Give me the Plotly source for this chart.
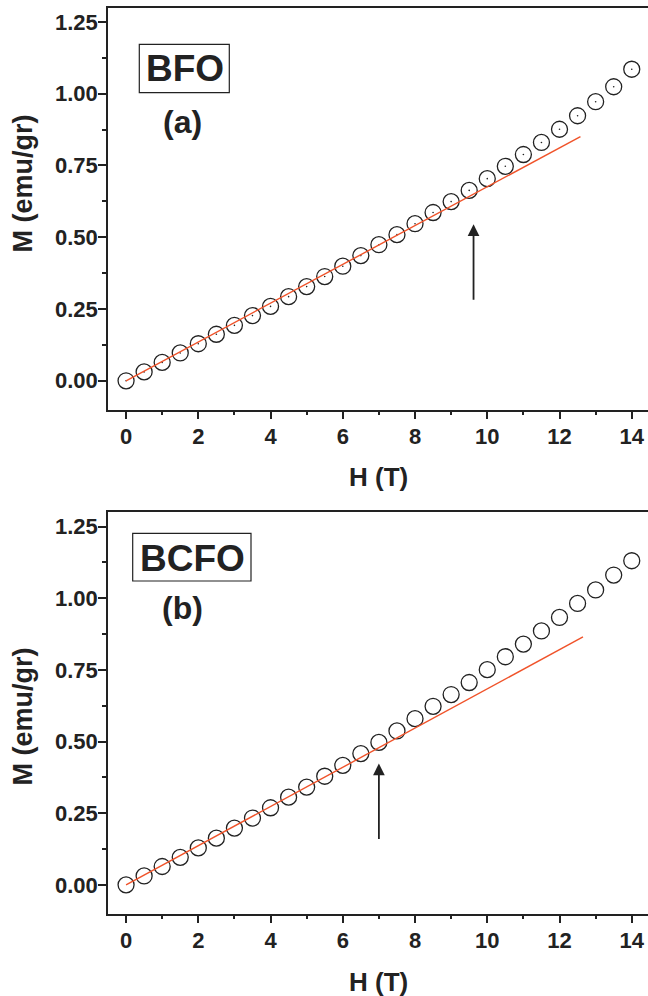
import plotly.graph_objects as go

# ---------------- data ----------------
H = [0, 0.5, 1, 1.5, 2, 2.5, 3, 3.5, 4, 4.5, 5, 5.5, 6, 6.5, 7, 7.5, 8, 8.5,
     9, 9.5, 10, 10.5, 11, 11.5, 12, 12.5, 13, 13.5, 14]
M_BFO = [0, 0.031, 0.064, 0.097, 0.129, 0.162, 0.193, 0.227, 0.259, 0.293, 0.328,
         0.363, 0.399, 0.436, 0.474, 0.509, 0.547, 0.586, 0.624, 0.663, 0.704,
         0.747, 0.788, 0.830, 0.876, 0.923, 0.972, 1.024, 1.085]
M_BCFO = [0, 0.031, 0.064, 0.096, 0.129, 0.163, 0.198, 0.233, 0.269, 0.306, 0.341,
          0.379, 0.417, 0.458, 0.497, 0.537, 0.580, 0.623, 0.664, 0.706, 0.751,
          0.796, 0.840, 0.886, 0.933, 0.982, 1.029, 1.081, 1.131]
FIT_BFO_H = [0, 12.58]
FIT_BFO_M = [0, 0.850]
FIT_BCFO_H = [0, 12.65]
FIT_BCFO_M = [0, 0.865]
ARROW_BFO = dict(h=9.62, tail=0.277, tip=0.545)
ARROW_BCFO = dict(h=7.0, tail=0.155, tip=0.423)
X_TICKS = [0, 2, 4, 6, 8, 10, 12, 14]
Y_TICKS = [0.00, 0.25, 0.50, 0.75, 1.00, 1.25]

FONT = "Liberation Sans, Arial, sans-serif"
INK = "#222222"
RED = "#f0532a"

fig = go.Figure()

marker = dict(symbol="circle-open", size=16, color=INK, line=dict(width=1.3, color=INK))

# top panel
fig.add_trace(go.Scatter(x=H, y=M_BFO, mode="markers", marker=marker,
                         xaxis="x", yaxis="y", showlegend=False))
fig.add_trace(go.Scatter(x=H, y=M_BFO, mode="markers",
                         marker=dict(symbol="circle", size=1.6, color=INK),
                         xaxis="x", yaxis="y", showlegend=False))
fig.add_trace(go.Scatter(x=FIT_BFO_H, y=FIT_BFO_M, mode="lines",
                         line=dict(color=RED, width=1.4),
                         xaxis="x", yaxis="y", showlegend=False))
# bottom panel
fig.add_trace(go.Scatter(x=H, y=M_BCFO, mode="markers", marker=marker,
                         xaxis="x2", yaxis="y2", showlegend=False))
fig.add_trace(go.Scatter(x=FIT_BCFO_H, y=FIT_BCFO_M, mode="lines",
                         line=dict(color=RED, width=1.4),
                         xaxis="x2", yaxis="y2", showlegend=False))

W, Hgt = 648, 996
def py(p):
    return (Hgt - p) / Hgt
def px(p):
    return p / W

xcommon = dict(range=[-0.5, 14.45], tickvals=X_TICKS, ticks="outside", ticklen=8,
               tickwidth=1.5, tickcolor=INK, showline=True, linewidth=1.5,
               linecolor=INK, mirror=True, showgrid=False, zeroline=False,
               automargin=False, ticklabelstandoff=-2,
               tickfont=dict(family=FONT, size=22, color=INK, weight="bold"),
               minor=dict(ticks="outside", ticklen=4, tickwidth=1.5,
                          tickcolor=INK, dtick=1, showgrid=False),
               domain=[px(108), 1])
ycommon = dict(range=[-0.1, 1.3], tickvals=Y_TICKS, tickformat=".2f",
               ticks="outside", ticklen=8, tickwidth=1.5, tickcolor=INK,
               showline=True, linewidth=1.5, linecolor=INK, mirror=False,
               showgrid=False, zeroline=False, automargin=False,
               ticklabelstandoff=-4,
               tickfont=dict(family=FONT, size=22, color=INK, weight="bold"),
               minor=dict(ticks="outside", ticklen=4, tickwidth=1.5,
                          tickcolor=INK, dtick=0.125, tick0=0, showgrid=False))

fig.update_layout(
    width=W, height=Hgt,
    margin=dict(l=0, r=0, t=0, b=0),
    paper_bgcolor="white", plot_bgcolor="white",
    xaxis=dict(**xcommon, anchor="y"),
    yaxis=dict(**ycommon, anchor="x", domain=[py(409.5), py(7.5)]),
    xaxis2=dict(**xcommon, anchor="y2"),
    yaxis2=dict(**ycommon, anchor="x2", domain=[py(913.5), py(512.3)]),
)

ann = []
xt_font = dict(family=FONT, size=26, color=INK, weight="bold")
yt_font = dict(family=FONT, size=27, color=INK, weight="bold")
for yc in (477, 982):
    ann.append(dict(text="H (T)", x=px(378), y=py(yc), xref="paper", yref="paper",
                    xanchor="center", yanchor="middle", showarrow=False, font=xt_font))
for yc in (184, 717):
    ann.append(dict(text="M (emu/gr)", x=px(22.5), y=py(yc), xref="paper", yref="paper",
                    xanchor="center", yanchor="middle", textangle=-90,
                    showarrow=False, font=yt_font))

big = dict(family=FONT, size=37, color=INK, weight="bold")
lab = dict(family=FONT, size=32, color=INK, weight="bold")
ann.append(dict(text="BFO", x=px(185), y=py(69), xref="paper", yref="paper",
                xanchor="center", yanchor="middle", showarrow=False, font=big))
ann.append(dict(text="(a)", x=px(183), y=py(122), xref="paper", yref="paper",
                xanchor="center", yanchor="middle", showarrow=False, font=lab))
ann.append(dict(text="BCFO", x=px(192), y=py(558), xref="paper", yref="paper",
                xanchor="center", yanchor="middle", showarrow=False, font=big))
ann.append(dict(text="(b)", x=px(183), y=py(608), xref="paper", yref="paper",
                xanchor="center", yanchor="middle", showarrow=False, font=lab))

for a, xr, yr in ((ARROW_BFO, "x", "y"), (ARROW_BCFO, "x2", "y2")):
    ann.append(dict(x=a["h"], y=a["tip"], ax=a["h"], ay=a["tail"],
                    xref=xr, yref=yr, axref=xr, ayref=yr, text="",
                    showarrow=True, arrowhead=2, arrowsize=1.3, arrowwidth=1.8,
                    arrowcolor=INK))
fig.update_layout(annotations=ann)

shapes = [
    dict(type="rect", xref="paper", yref="paper", x0=px(139.3), x1=px(229.3),
         y0=py(92.7), y1=py(44.3), line=dict(color=INK, width=1.2)),
    dict(type="rect", xref="paper", yref="paper", x0=px(132.7), x1=px(251),
         y0=py(581), y1=py(533.3), line=dict(color=INK, width=1.2)),
]
fig.update_layout(shapes=shapes)

fig.write_html("out.html", config={"displayModeBar": False},
               post_script="document.body.style.margin='0';document.body.style.overflow='hidden';")
